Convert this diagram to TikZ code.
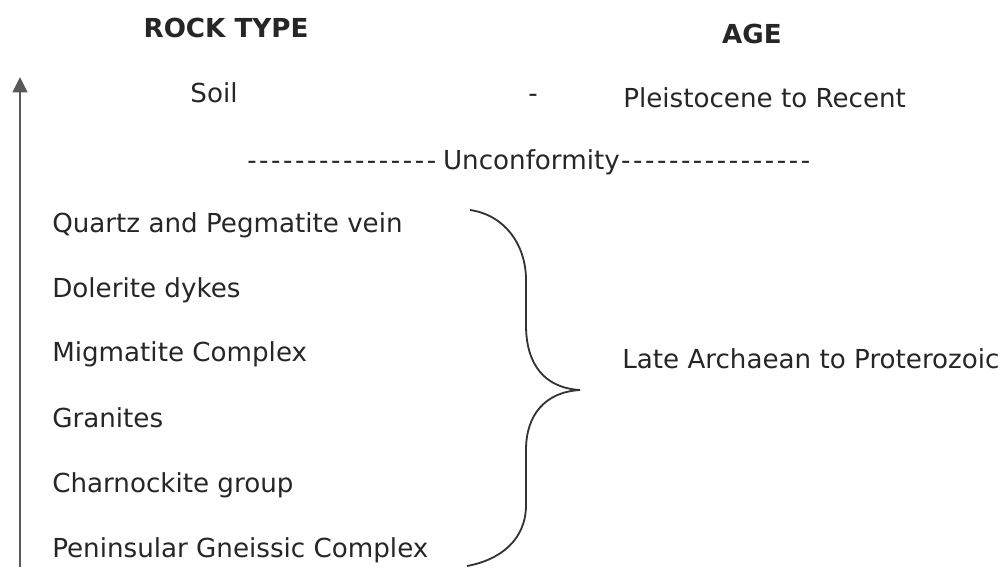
\documentclass[tikz,border=0pt]{standalone}
\usepackage{fontspec}
\setmainfont{DejaVu Sans}
\usetikzlibrary{arrows.meta,positioning}

\newcommand{\dashrun}{\foreach \k in {1,...,16}{-\kern1.8pt}}

\begin{document}
\begin{tikzpicture}[x=0.025cm, y=-0.025cm, >=Stealth,
    every node/.style={inner sep=0pt, text=black!85, font=\fontsize{18.6}{22}\selectfont},
    heading/.style={anchor=base, font=\fontsize{18.6}{22}\selectfont\bfseries},
    rock/.style={anchor=base west}]
    \useasboundingbox (0,0) rectangle (1008,567);

    % Column headings
    \node[heading] (head-rock) at (226,37) {ROCK TYPE};
    \node[heading] (head-age) at (752,43) {AGE};

    % Time arrow (young at top)
    \coordinate (arrow-base) at (20,567);
    \coordinate (arrow-top) at (20,77);
    \draw[black!65, line width=1.6pt, -{Triangle[length=11pt, width=10.5pt]}] (arrow-base) -- (arrow-top);

    % Soil row
    \node[anchor=base] (soil) at (214,102) {Soil};
    \node (soil-dash) at (533,98) {-};
    \node[rock] (soil-age) at (623,107) {Pleistocene to Recent};

    % Unconformity
    \node[rock] (unconf) at (247,169) {\dashrun\hspace{3pt}Unconformity\hspace{1pt}\dashrun};

    % Rock units, youngest first
    \node[rock] (quartz) at (52,232) {Quartz and Pegmatite vein};
    \node[rock] (dolerite) at (52,297) {Dolerite dykes};
    \node[rock] (migmatite) at (52,361) {Migmatite Complex};
    \node[rock] (granite) at (52,427) {Granites};
    \node[rock] (charnockite) at (52,492) {Charnockite group};
    \node[rock] (gneiss) at (52,557) {Peninsular Gneissic Complex};

    % Brace grouping the basement rocks
    \draw[black!80, line width=1.3pt] (470,210) .. controls (505,215) and (526,245) .. (526,280)
        -- (526,325) .. controls (526,365) and (545,388) .. (580,390)
        .. controls (545,392) and (526,415) .. (526,450)
        -- (526,505) .. controls (526,540) and (500,560) .. (467,566);
    \node[rock] (late-age) at (622,368) {Late Archaean to Proterozoic};
\end{tikzpicture}
\end{document}
